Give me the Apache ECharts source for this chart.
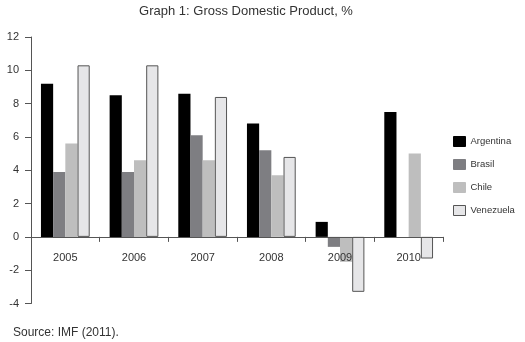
<!DOCTYPE html>
<html><head><meta charset="utf-8">
<script src="https://cdn.jsdelivr.net/npm/echarts@6/dist/echarts.min.js"></script>
<style>html,body{margin:0;padding:0;background:#fff}#c{width:525px;height:342px}</style>
</head><body><div id="c"></div>
<script>
const years = ['2005','2006','2007','2008','2009','2010'];
const argentina = [9.2, 8.5, 8.6, 6.8, 0.9, 7.5];
const brasil = [3.9, 3.9, 6.1, 5.2, -0.6, null];
const chile = [5.6, 4.6, 4.6, 3.7, -1.5, 5.0];
const venezuela = [10.3, 10.3, 8.4, 4.8, -3.3, -1.3];
const seriesNames = ['Argentina','Brasil','Chile','Venezuela'];
const titleText = 'Graph 1: Gross Domestic Product, %';
const sourceText = 'Source: IMF (2011).';

const font = 'Liberation Sans, Arial, sans-serif';
const chart = echarts.init(document.getElementById('c'), null, {renderer:'canvas'});
const mk = (name, data, color, border) => ({
  name, type:'bar', data, barGap:'0%', barCategoryGap:'29%',
  itemStyle:{color, borderColor: border || color, borderWidth: border ? 1 : 0},
  z: 2
});
chart.setOption({
  animation:false,
  title:[
    {text:titleText, left:246, textAlign:'center', top:5, padding:0,
     textStyle:{fontFamily:font, fontSize:13, fontWeight:'normal', color:'#333'}},
    {text:sourceText, left:13, top:327, padding:0,
     textStyle:{fontFamily:font, fontSize:12, fontWeight:'normal', color:'#333'}}
  ],
  legend:{orient:'vertical', left:453, top:136, padding:0, itemWidth:12, itemHeight:10, itemGap:12,
    icon:'rect', itemStyle:{borderWidth:1},
    data:seriesNames, textStyle:{fontFamily:font, fontSize:9.5, color:'#333'}},
  grid:{left:31, right:82, top:37, bottom:38.5},
  xAxis:{type:'category', data:years,
    axisLine:{onZero:true, lineStyle:{color:'#555', width:1}},
    axisTick:{show:true, interval:0, length:5, lineStyle:{color:'#555'}},
    axisLabel:{margin:-51, fontFamily:font, fontSize:11, color:'#333'},
    z:3},
  yAxis:{type:'value', min:-4, max:12, interval:2,
    axisLine:{show:true, lineStyle:{color:'#555', width:1}},
    axisTick:{show:true, length:6, lineStyle:{color:'#555'}},
    axisLabel:{margin:12, fontFamily:font, fontSize:11, color:'#333'},
    splitLine:{show:false}},
  series:[
    mk('Argentina', argentina, '#000000'),
    mk('Brasil', brasil, '#7e7e82'),
    mk('Chile', chile, '#bebebe'),
    mk('Venezuela', venezuela, '#e6e6e8', '#555555')
  ]
});
</script></body></html>
